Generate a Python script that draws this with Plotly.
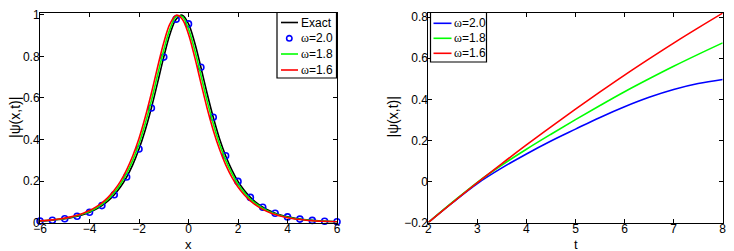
import plotly.graph_objects as go

# ---------------- Data (left panel) ----------------
x_line = [-6.0, -5.75, -5.5, -5.25, -5.0, -4.75, -4.5, -4.25, -4.0, -3.75, -3.5, -3.25,
          -3.0, -2.75, -2.5, -2.25, -2.0, -1.75, -1.5, -1.25, -1.0, -0.75, -0.5, -0.25,
          0.0, 0.25, 0.5, 0.75, 1.0, 1.25, 1.5, 1.75, 2.0, 2.25, 2.5, 2.75, 3.0, 3.25,
          3.5, 3.75, 4.0, 4.25, 4.5, 4.75, 5.0, 5.25, 5.5, 5.75, 6.0]

exact_vals = [0.0067, 0.0086, 0.0110, 0.0142, 0.0182, 0.0233, 0.0300, 0.0385, 0.0494, 0.0634,
              0.0815, 0.104, 0.134, 0.171, 0.219, 0.279, 0.354, 0.445, 0.552, 0.673, 0.797,
              0.907, 0.980, 0.999, 0.957, 0.866, 0.748, 0.623, 0.507, 0.405, 0.322, 0.254,
              0.198, 0.155, 0.121, 0.0945, 0.0738, 0.0575, 0.0447, 0.0348, 0.0271, 0.0211,
              0.0165, 0.0128, 0.0100, 0.0078, 0.0061, 0.0047, 0.0037]

w18_vals = [0.0072, 0.0093, 0.0119, 0.0153, 0.0196, 0.0252, 0.0324, 0.0416, 0.0534, 0.0686,
            0.0880, 0.1125, 0.1445, 0.1845, 0.2365, 0.3005, 0.3795, 0.476, 0.5875, 0.7105,
            0.8315, 0.932, 0.992, 0.992, 0.932, 0.8315, 0.7105, 0.5875, 0.476, 0.3795, 0.3005,
            0.2365, 0.1845, 0.1445, 0.1125, 0.088, 0.0686, 0.0534, 0.0416, 0.0324, 0.0252,
            0.0196, 0.0153, 0.0119, 0.0093, 0.0072, 0.0056, 0.0044, 0.0034]

w16_vals = [0.0078, 0.0100, 0.0128, 0.0165, 0.0211, 0.0271, 0.0348, 0.0447, 0.0575, 0.0738,
            0.0945, 0.121, 0.155, 0.198, 0.254, 0.322, 0.405, 0.507, 0.623, 0.748, 0.866,
            0.957, 0.999, 0.980, 0.907, 0.797, 0.673, 0.552, 0.445, 0.354, 0.279, 0.219,
            0.171, 0.134, 0.104, 0.0815, 0.0634, 0.0494, 0.0385, 0.0300, 0.0233, 0.0182,
            0.0142, 0.0110, 0.0086, 0.0067, 0.0052, 0.0041, 0.0032]

x_pts = [-6.0, -5.5, -5.0, -4.5, -4.0, -3.5, -3.0, -2.5, -2.0, -1.5, -1.0, -0.5, 0.0,
         0.5, 1.0, 1.5, 2.0, 2.5, 3.0, 3.5, 4.0, 4.5, 5.0, 5.5, 6.0]
w20_pts = [0.0067, 0.0110, 0.0182, 0.0300, 0.0494, 0.0815, 0.134, 0.219, 0.354, 0.552,
           0.797, 0.980, 0.957, 0.748, 0.507, 0.322, 0.198, 0.121, 0.0738, 0.0447, 0.0271,
           0.0165, 0.0100, 0.0061, 0.0037]

# ---------------- Data (right panel) ----------------
t_vals = [2.0, 2.5, 3.0, 3.5, 4.0, 4.5, 5.0, 5.5, 6.0, 6.5, 7.0, 7.5, 8.0]
r_w20 = [-0.2, -0.102, -0.010, 0.066, 0.134, 0.197, 0.255, 0.312, 0.364, 0.410, 0.448, 0.477, 0.497]
r_w18 = [-0.2, -0.100, -0.004, 0.080, 0.157, 0.230, 0.301, 0.370, 0.437, 0.500, 0.561, 0.619, 0.675]
r_w16 = [-0.2, -0.102, -0.006, 0.087, 0.178, 0.266, 0.352, 0.436, 0.518, 0.597, 0.674, 0.748, 0.820]

left_legend = ["Exact", "ω=2.0", "ω=1.8", "ω=1.6"]
right_legend = ["ω=2.0", "ω=1.8", "ω=1.6"]

BLUE, GREEN, RED, BLACK = "#0000ff", "#00ff00", "#ff0000", "#000000"
FONT = "Liberation Sans, Arial, sans-serif"

# the page body has an 8px margin, so the figure is sized to fit the window
OFF = 8
FW, FH = 734 - OFF, 251 - OFF


def px(x):
    return (x - OFF) / FW


def py(y):
    return 1 - (y - OFF) / FH


def omega(s):
    return s.replace("ω", '<span style="font-family:Liberation Serif">ω</span>')


fig = go.Figure()

# left panel
fig.add_trace(go.Scatter(x=x_line, y=exact_vals, mode="lines", name=left_legend[0],
                         line=dict(color=BLACK, width=1.6, shape="spline"),
                         xaxis="x", yaxis="y", showlegend=False))
fig.add_trace(go.Scatter(x=x_pts, y=w20_pts, mode="markers", name=left_legend[1],
                         marker=dict(symbol="circle-open", color=BLUE, size=6,
                                     line=dict(width=1.6, color=BLUE)),
                         xaxis="x", yaxis="y", showlegend=False, cliponaxis=False))
fig.add_trace(go.Scatter(x=x_line, y=w18_vals, mode="lines", name=left_legend[2],
                         line=dict(color=GREEN, width=1.6, shape="spline"),
                         xaxis="x", yaxis="y", showlegend=False))
fig.add_trace(go.Scatter(x=x_line, y=w16_vals, mode="lines", name=left_legend[3],
                         line=dict(color=RED, width=1.6, shape="spline"),
                         xaxis="x", yaxis="y", showlegend=False))

# right panel
for vals, col, nm in [(r_w20, BLUE, right_legend[0]), (r_w18, GREEN, right_legend[1]),
                      (r_w16, RED, right_legend[2])]:
    fig.add_trace(go.Scatter(x=t_vals, y=vals, mode="lines", name=nm,
                             line=dict(color=col, width=1.6, shape="spline"),
                             xaxis="x2", yaxis="y2", showlegend=False))

ax_common = dict(showline=True, linecolor=BLACK, linewidth=1, mirror="ticks",
                 ticks="inside", ticklen=4, tickcolor=BLACK, showgrid=False,
                 zeroline=False, automargin=False,
                 tickfont=dict(size=12, color=BLACK, family=FONT))

L_TOP, L_BOT = 12.5, 222.5
yd = [py(L_BOT), py(L_TOP)]

fig.update_layout(
    width=FW, height=FH, margin=dict(l=0, r=0, t=0, b=0),
    paper_bgcolor="white", plot_bgcolor="white",
    font=dict(family=FONT, size=12, color=BLACK),
    showlegend=False,
    xaxis=dict(ax_common, domain=[px(40), px(337)], range=[-6, 6],
               tickvals=[-6, -4, -2, 0, 2, 4, 6], ticklabelstandoff=-5),
    yaxis=dict(ax_common, domain=yd, range=[0, 1.012],
               tickvals=[0, 0.2, 0.4, 0.6, 0.8, 1],
               ticktext=["0", "0.2", "0.4", "0.6", "0.8", "1"], ticklabelstandoff=-3),
    xaxis2=dict(ax_common, domain=[px(428.3), px(722.7)], range=[2, 8],
                tickvals=[2, 3, 4, 5, 6, 7, 8], anchor="y2", ticklabelstandoff=-5),
    yaxis2=dict(ax_common, domain=yd, range=[-0.2, 0.823], anchor="x2",
                tickvals=[-0.2, 0, 0.2, 0.4, 0.6, 0.8],
                ticktext=["\u22120.2", "0", "0.2", "0.4", "0.6", "0.8"], ticklabelstandoff=-3),
)

annotations = []
shapes = []

# axis titles
for xc, txt in [(188.5, "x"), (575.5, "t")]:
    annotations.append(dict(x=px(xc), y=py(244.5), xref="paper", yref="paper", text=txt,
                            showarrow=False, xanchor="center", yanchor="middle",
                            font=dict(size=13, family=FONT, color=BLACK)))
for xc in [14.5, 392]:
    annotations.append(dict(x=px(xc), y=py(117.5), xref="paper", yref="paper",
                            text="|ψ(x,t)|", textangle=-90, showarrow=False,
                            xanchor="center", yanchor="middle",
                            font=dict(size=14, family=FONT, color=BLACK)))


def legend_box(x0, y0, x1, y1):
    shapes.append(dict(type="rect", xref="paper", yref="paper",
                       x0=px(x0), x1=px(x1), y0=py(y1), y1=py(y0),
                       line=dict(color=BLACK, width=1.2), fillcolor="white", layer="above"))


def legend_line(x0, x1, y, col):
    shapes.append(dict(type="line", xref="paper", yref="paper",
                       x0=px(x0), x1=px(x1), y0=py(y), y1=py(y),
                       line=dict(color=col, width=1.6), layer="above"))


def legend_text(x, y, txt):
    annotations.append(dict(x=px(x), y=py(y), xref="paper", yref="paper", text=omega(txt),
                            showarrow=False, xanchor="left", yanchor="middle",
                            font=dict(size=12, family=FONT, color=BLACK)))


# left legend
legend_box(277, 12.5, 336.5, 78)
ly = [22.5, 38.3, 54, 70]
legend_line(281, 298, ly[0], BLACK)
shapes.append(dict(type="circle", xref="paper", yref="paper",
                   x0=px(286.6), x1=px(292.0), y0=py(ly[1] + 2.7), y1=py(ly[1] - 2.7),
                   line=dict(color=BLUE, width=1.6), layer="above"))
legend_line(281, 298, ly[2], GREEN)
legend_line(281, 298, ly[3], RED)
for yy, txt in zip(ly, left_legend):
    legend_text(298.5, yy, txt)

# right legend
legend_box(430.5, 12.5, 486.5, 62)
ry = [23.3, 38.3, 53.3]
for yy, col, txt in zip(ry, [BLUE, GREEN, RED], right_legend):
    legend_line(433.5, 451.5, yy, col)
    legend_text(451.5, yy, txt)

fig.update_layout(annotations=annotations, shapes=shapes)

fig.write_html("out.html")
